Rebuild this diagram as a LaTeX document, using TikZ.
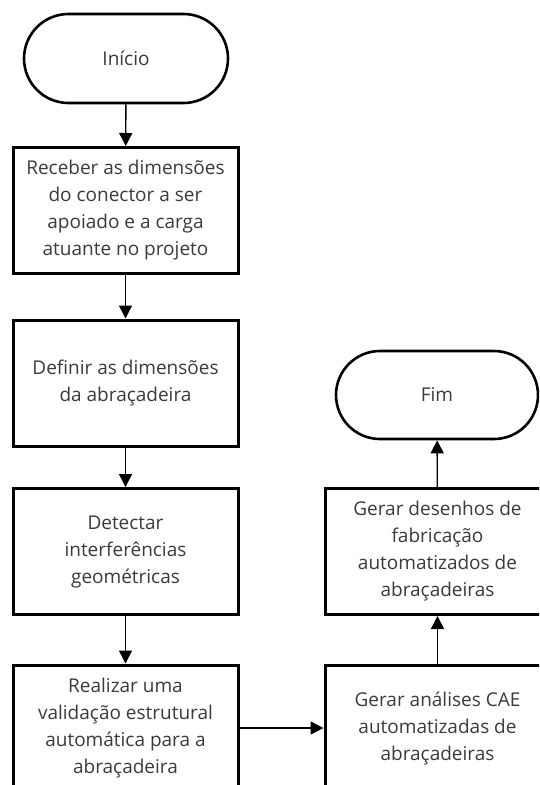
\documentclass[tikz,border=0pt]{standalone}
\usepackage{fontspec}
\setmainfont{Open Sans}
\usetikzlibrary{arrows.meta,shapes.misc}
\definecolor{txt}{HTML}{3A3A3A}
\tikzset{
  every node/.style={font=\fontsize{19}{27}\selectfont, text=txt, align=center},
  procbox/.style={draw=black, line width=3pt, rectangle, minimum width=225pt, minimum height=126pt, inner sep=0pt},
  term/.style={draw=black, line width=2.6pt, rounded rectangle, minimum width=204pt, minimum height=89pt, inner sep=0pt},
  conn/.style={line width=1.4pt, -{Triangle[length=13pt,width=13pt]}}
}
\begin{document}
\begin{tikzpicture}[x=1pt,y=-1pt]
\useasboundingbox (0,0) rectangle (539,785);
\clip (0,0) rectangle (539,785);
\node[term] (start) at (126,58.5) {Início};
\node[procbox] (b1) at (125.5,210.5) {Receber as dimensões\\do conector a ser\\apoiado e a carga\\atuante no projeto};
\node[procbox] (b2) at (125.5,383) {Definir as dimensões\\da abraçadeira};
\node[procbox] (b3) at (125.5,551.5) {Detectar\\interferências\\geométricas};
\node[procbox] (b4) at (125.5,728) {Realizar uma\\validação estrutural\\automática para a\\abraçadeira};
\node[procbox] (b5) at (437.5,728) {Gerar análises CAE\\automatizadas de\\abraçadeiras};
\node[procbox] (b6) at (437.5,551.5) {Gerar desenhos de\\fabricação\\automatizados de\\abraçadeiras};
\node[term, minimum width=202pt, minimum height=88pt] (fim) at (437,395) {Fim};
\draw[conn] (start) -- (b1);
\draw[conn] (b1) -- (b2);
\draw[conn] (b2) -- (b3);
\draw[conn] (b3) -- (b4);
\draw[conn] (b4) -- (b5);
\draw[conn] (b5) -- (b6);
\draw[conn] (b6) -- (fim);
\end{tikzpicture}
\end{document}
